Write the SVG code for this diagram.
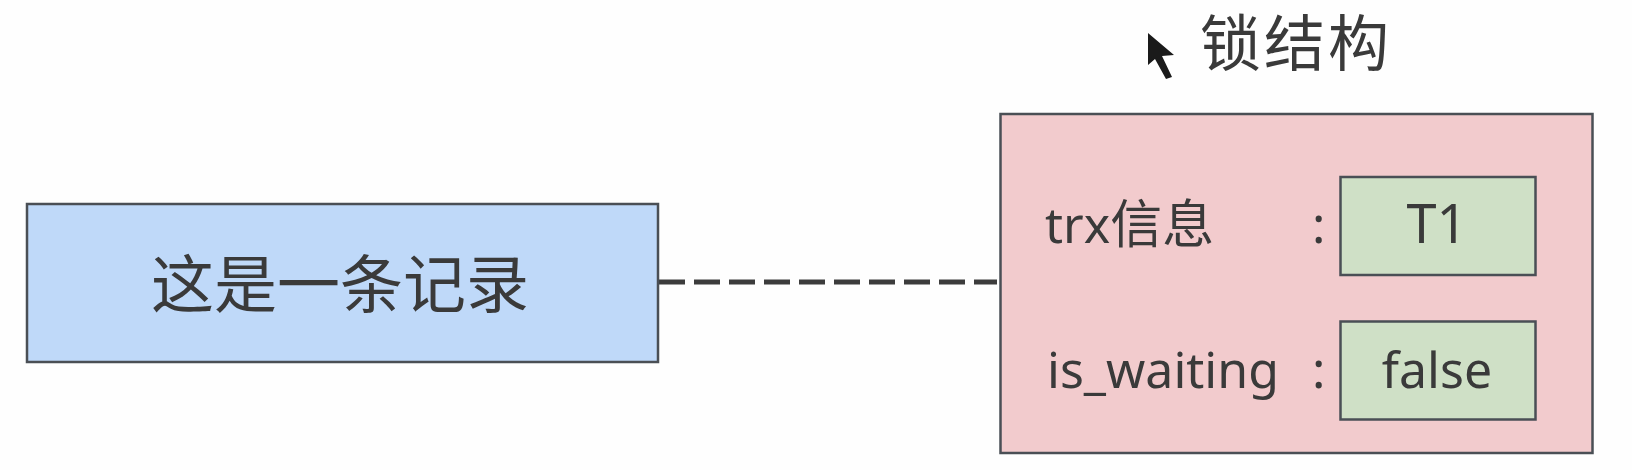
<svg xmlns="http://www.w3.org/2000/svg" width="1632" height="470" viewBox="0 0 1632 470">
<style>
.box{stroke:#4a4f55;stroke-width:2.5}
text{font-family:"Noto Sans","Noto Sans CJK SC",sans-serif;fill:#3a3a3a;font-weight:400}
.c{text-anchor:middle}
.lab{font-size:50px}
</style>
<rect width="1632" height="470" fill="#fefefe"/>
<g id="connectors"><line x1="659" y1="282" x2="997" y2="282" stroke="#3c3c3c" stroke-width="5" stroke-dasharray="26 9"/></g>
<g id="record"><rect class="box" x="27" y="204" width="631" height="158" fill="#bfd9f9"/><text class="c" x="340" y="307" font-size="63">这是一条记录</text></g>
<g id="lock-title"><text class="c" x="1296" y="66" font-size="61" letter-spacing="3">锁结构</text></g>
<g id="cursor"><path d="M1148 33V65L1155 59L1166 79L1172 77L1162 56L1174 55Z" fill="#1a1a1a"/></g>
<g id="lock"><rect class="box" x="1000.500" y="114" width="592" height="339" fill="#f2cbcd"/></g>
<g id="trx"><text class="lab" x="1045" y="243">trx<tspan style="font-size:52px">信息</tspan></text><text class="lab" x="1312" y="243">:</text></g>
<g id="t1"><rect class="box" x="1340.500" y="177" width="195" height="98" fill="#cfe0c6"/><text class="c" x="1437" y="243" font-size="54">T1</text></g>
<g id="waiting"><text class="lab" x="1047" y="388">is_waiting</text><text class="lab" x="1312" y="388">:</text></g>
<g id="false"><rect class="box" x="1340.500" y="321.500" width="195" height="98" fill="#cfe0c6"/><text class="c lab" x="1437" y="388">false</text></g>
</svg>
